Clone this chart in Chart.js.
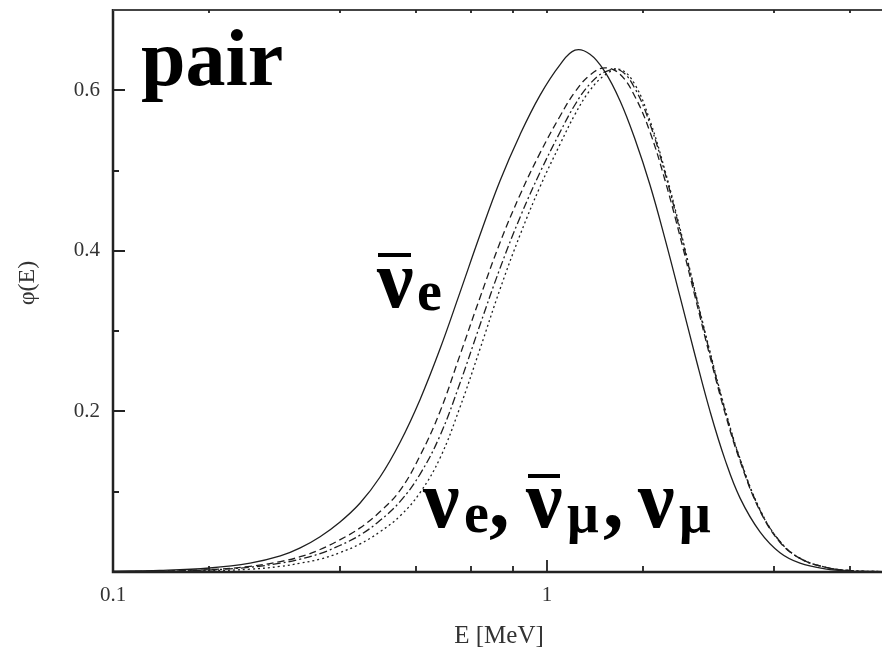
<!DOCTYPE html>
<html>
<head>
<meta charset="utf-8">
<script src="https://cdn.jsdelivr.net/npm/chart.js@4/dist/chart.umd.min.js"></script>
<style>
  html, body { margin: 0; padding: 0; background: #fff; }
  #wrap { width: 882px; height: 653px; }
</style>
</head>
<body>
<div id="wrap"><canvas id="c" width="882" height="653"></canvas></div>
<script>
// Energy grid, MeV
const energy = [0.100, 0.128, 0.167, 0.207, 0.243, 0.270, 0.300, 0.333, 0.371, 0.412,
                0.459, 0.510, 0.567, 0.630, 0.701, 0.779, 0.867, 0.964, 1.072, 1.160,
                1.256, 1.360, 1.473, 1.595, 1.727, 1.870, 2.025, 2.193, 2.375, 2.571,
                2.785, 3.095, 3.442, 3.828, 4.371, 4.992, 5.913];

// Normalised spectra phi(E) for pair-produced neutrinos
const antiNuE = [0.001, 0.002, 0.005, 0.011, 0.020, 0.030, 0.044, 0.062, 0.086, 0.118,
                 0.162, 0.215, 0.278, 0.348, 0.420, 0.487, 0.545, 0.594, 0.632, 0.650,
                 0.645, 0.623, 0.587, 0.539, 0.482, 0.415, 0.343, 0.270, 0.200, 0.140,
                 0.092, 0.050, 0.024, 0.011, 0.004, 0.0012, 0.0003];
const nuE     = [0.0004, 0.001, 0.003, 0.007, 0.013, 0.019, 0.028, 0.040, 0.055, 0.075,
                 0.102, 0.145, 0.200, 0.270, 0.342, 0.410, 0.470, 0.522, 0.568, 0.598,
                 0.619, 0.628, 0.620, 0.592, 0.548, 0.488, 0.418, 0.343, 0.268, 0.198,
                 0.138, 0.076, 0.037, 0.017, 0.006, 0.0018, 0.0004];
const antiNuMu = [0.0003, 0.0008, 0.0025, 0.006, 0.011, 0.016, 0.023, 0.033, 0.046, 0.064,
                 0.088, 0.122, 0.170, 0.235, 0.308, 0.378, 0.442, 0.498, 0.548, 0.582,
                 0.608, 0.623, 0.625, 0.602, 0.558, 0.497, 0.425, 0.348, 0.272, 0.201,
                 0.140, 0.077, 0.038, 0.017, 0.006, 0.0018, 0.0004];
const nuMu    = [0.0002, 0.0005, 0.0015, 0.0035, 0.007, 0.011, 0.016, 0.024, 0.035, 0.050,
                 0.070, 0.099, 0.142, 0.205, 0.278, 0.352, 0.420, 0.480, 0.533, 0.570,
                 0.600, 0.619, 0.626, 0.607, 0.562, 0.500, 0.428, 0.350, 0.274, 0.203,
                 0.141, 0.078, 0.038, 0.017, 0.006, 0.0018, 0.0004];

// Axis ranges and tick marks
const xRange = [0.1, 5.913];
const yRange = [0, 0.7];
const xTicks = [1/6, 1/3, 0.5, 2/3, 5/6, 1, 5/3, 10/3, 5];
const xMajor = [1];
const xTickLabels = [[0.1, '0.1'], [1, '1']];
const yTicks = [0.1, 0.2, 0.3, 0.4, 0.5, 0.6];
const yTickLabels = [[0.2, '0.2'], [0.4, '0.4'], [0.6, '0.6']];

const ink = '#1e1e1e';
const toPoints = vals => energy.map((e, i) => ({ x: e, y: vals[i] }));

function series(label, vals, dash) {
  return {
    label, data: toPoints(vals),
    borderColor: ink, borderWidth: 1.3, borderDash: dash,
    pointRadius: 0, fill: false, tension: 0.4
  };
}

const SERIF = '"Liberation Serif", "Times New Roman", serif';

const framePlugin = {
  id: 'frame',
  afterDraw(chart) {
    const { ctx, chartArea: a, scales: { x, y } } = chart;
    ctx.save();
    ctx.strokeStyle = '#222';
    ctx.lineCap = 'butt';

    // frame: left, bottom, top
    ctx.lineWidth = 2.5;
    ctx.beginPath();
    ctx.moveTo(a.left, a.top - 1); ctx.lineTo(a.left, a.bottom + 1.2);
    ctx.moveTo(a.left - 1.2, a.bottom); ctx.lineTo(a.right, a.bottom);
    ctx.stroke();
    ctx.lineWidth = 2;
    ctx.strokeStyle = '#444';
    ctx.beginPath();
    ctx.moveTo(a.left, a.top); ctx.lineTo(a.right, a.top);
    ctx.stroke();

    // inward ticks
    ctx.strokeStyle = '#222';
    ctx.lineWidth = 1.8;
    ctx.beginPath();
    xTicks.forEach(v => {
      const px = Math.round(x.getPixelForValue(v));
      const len = xMajor.includes(v) ? 12 : 6;
      ctx.moveTo(px, a.bottom); ctx.lineTo(px, a.bottom - len);
      ctx.moveTo(px, a.top); ctx.lineTo(px, a.top + 3);
    });
    yTicks.forEach(v => {
      const py = Math.round(y.getPixelForValue(v));
      const major = yTickLabels.some(t => Math.abs(t[0] - v) < 1e-9);
      ctx.moveTo(a.left, py); ctx.lineTo(a.left + (major ? 12 : 6), py);
    });
    ctx.stroke();

    // tick labels
    ctx.fillStyle = '#333';
    ctx.font = '21px ' + SERIF;
    ctx.textBaseline = 'middle';
    ctx.textAlign = 'right';
    yTickLabels.forEach(([v, t]) => ctx.fillText(t, a.left - 13, y.getPixelForValue(v)));
    ctx.textAlign = 'center';
    xTickLabels.forEach(([v, t]) => ctx.fillText(t, x.getPixelForValue(v), a.bottom + 23));

    // axis titles
    ctx.font = '25px ' + SERIF;
    ctx.fillText('E [MeV]', 499, 636);
    ctx.save();
    ctx.translate(28, 283);
    ctx.rotate(-Math.PI / 2);
    ctx.font = '24px ' + SERIF;
    ctx.fillText('\u03c6(E)', 0, 0);
    ctx.restore();

    // panel and flavour labels
    ctx.fillStyle = '#000';
    ctx.textAlign = 'left';
    ctx.textBaseline = 'alphabetic';
    ctx.font = 'bold 80px ' + SERIF;
    ctx.fillText('pair', 141, 85);

    const big = 'bold 82px ' + SERIF;
    const sub = 'bold 56px ' + SERIF;
    const put = (txt, font, px, py) => { ctx.font = font; ctx.fillText(txt, px, py); };
    const bar = (x0, x1, py) => ctx.fillRect(x0, py, x1 - x0, 4);

    // anti electron neutrino
    put('\u03bd', big, 377, 307);
    bar(378, 411, 253);
    put('e', sub, 417, 310);

    // the other three flavours
    put('\u03bd', big, 423, 527);
    put('e', sub, 464, 532);
    put(',', big, 489, 527);
    put('\u03bd', big, 526, 527);
    bar(528, 560, 474);
    put('\u03bc', sub, 567, 532);
    put(',', big, 603, 527);
    put('\u03bd', big, 638, 527);
    put('\u03bc', sub, 679, 532);

    ctx.restore();
  }
};

new Chart(document.getElementById('c'), {
  type: 'line',
  data: {
    datasets: [
      series('anti-nu_e', antiNuE, []),
      series('nu_e', nuE, [7, 4]),
      series('anti-nu_mu', antiNuMu, [8, 3, 2, 3]),
      series('nu_mu', nuMu, [2, 3])
    ]
  },
  options: {
    responsive: false,
    animation: false,
    devicePixelRatio: 1,
    layout: { padding: { left: 113, top: 10, right: 0, bottom: 81 } },
    plugins: { legend: { display: false }, tooltip: { enabled: false } },
    scales: {
      x: { type: 'logarithmic', min: xRange[0], max: xRange[1], bounds: 'data', display: false },
      y: { type: 'linear', min: yRange[0], max: yRange[1], bounds: 'data', display: false }
    }
  },
  plugins: [framePlugin]
});
</script>
</body>
</html>
